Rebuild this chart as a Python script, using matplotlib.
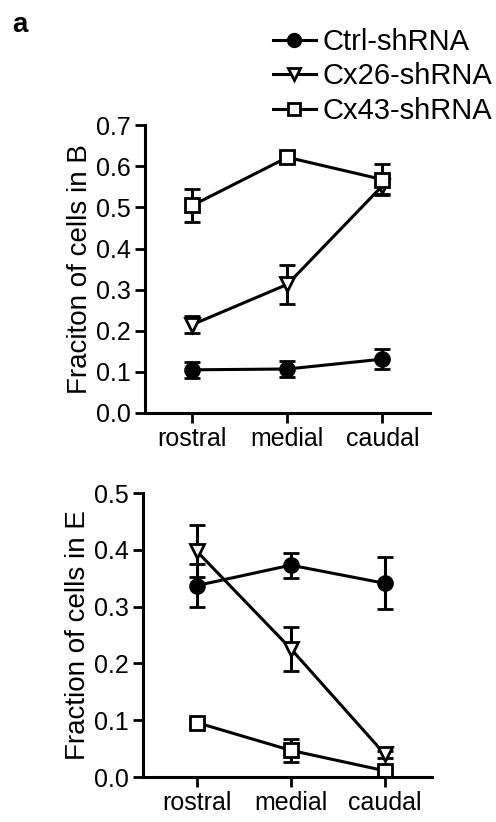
import matplotlib

matplotlib.use("Agg")
import matplotlib.pyplot as plt
from matplotlib.lines import Line2D

plt.rcParams["font.family"] = ["Liberation Sans", "DejaVu Sans"]

REGIONS = ["rostral", "medial", "caudal"]
SERIES = ["Ctrl-shRNA", "Cx26-shRNA", "Cx43-shRNA"]

# fraction of cells in B (top panel)
b_ctrl = [0.105, 0.107, 0.131]
b_ctrl_err = [0.020, 0.020, 0.024]
b_cx26 = [0.215, 0.313, 0.553]
b_cx26_err = [0.021, 0.047, 0.020]
b_cx43 = [0.505, 0.622, 0.568]
b_cx43_err = [0.040, 0.012, 0.038]

# fraction of cells in E (bottom panel)
e_ctrl = [0.337, 0.373, 0.341]
e_ctrl_err = [0.038, 0.022, 0.046]
e_cx26 = [0.398, 0.226, 0.040]
e_cx26_err = [0.045, 0.039, 0.006]
e_cx43 = [0.096, 0.047, 0.011]
e_cx43_err = [0.008, 0.020, 0.005]

STYLES = [
    dict(marker="o", markerfacecolor="black"),
    dict(marker="v", markerfacecolor="white"),
    dict(marker="s", markerfacecolor="white"),
]
LW = 2.2


def _panel(ax, series, errs, ylabel, ymax, xleft):
    x = list(range(len(REGIONS)))
    for vals, err, style in zip(series, errs, STYLES):
        ax.errorbar(
            x, vals, yerr=err, color="black", lw=LW, capsize=5.8, capthick=LW,
            elinewidth=LW, markersize=10, markeredgewidth=2.0,
            markeredgecolor="black", **style,
        )
    ax.set_xlim(xleft, 2.5)
    ax.set_ylim(0, ymax)
    ax.set_yticks([round(v * 0.1, 1) for v in range(int(round(ymax * 10)) + 1)])
    ax.yaxis.set_major_formatter(matplotlib.ticker.FormatStrFormatter("%.1f"))
    ax.set_xticks(x)
    ax.set_xticklabels(REGIONS)
    ax.set_ylabel(ylabel, fontsize=20, labelpad=2)
    for side in ["top", "right"]:
        ax.spines[side].set_visible(False)
    for side in ["left", "bottom"]:
        ax.spines[side].set_linewidth(2.2)
    ax.tick_params(labelsize=18, width=2.0, length=7, pad=3)


fig = plt.figure(figsize=(4.96, 8.22), dpi=100)
ax_b = fig.add_axes([0.292, 0.4976, 0.575, 0.350])
ax_e = fig.add_axes([0.288, 0.0547, 0.583, 0.3455])

_panel(ax_b, [b_ctrl, b_cx26, b_cx43], [b_ctrl_err, b_cx26_err, b_cx43_err],
       "Fraciton of cells in B", 0.7, -0.5)
_panel(ax_e, [e_ctrl, e_cx26, e_cx43], [e_ctrl_err, e_cx26_err, e_cx43_err],
       "Fraction of cells in E", 0.5, -0.57)

handles = [
    Line2D([], [], color="black", lw=LW, markersize=9, markeredgewidth=2.0,
           markeredgecolor="black", **style)
    for style in STYLES
]
fig.legend(
    handles, SERIES, loc="upper left", bbox_to_anchor=(0.551, 0.966),
    frameon=False, fontsize=21, handlelength=1.45, handletextpad=0.25,
    labelspacing=0.22, borderaxespad=0, borderpad=0,
)

fig.text(0.025, 0.985, "a", fontsize=20, fontweight="bold", va="top", ha="left")

fig.savefig("out.png", dpi=100)
